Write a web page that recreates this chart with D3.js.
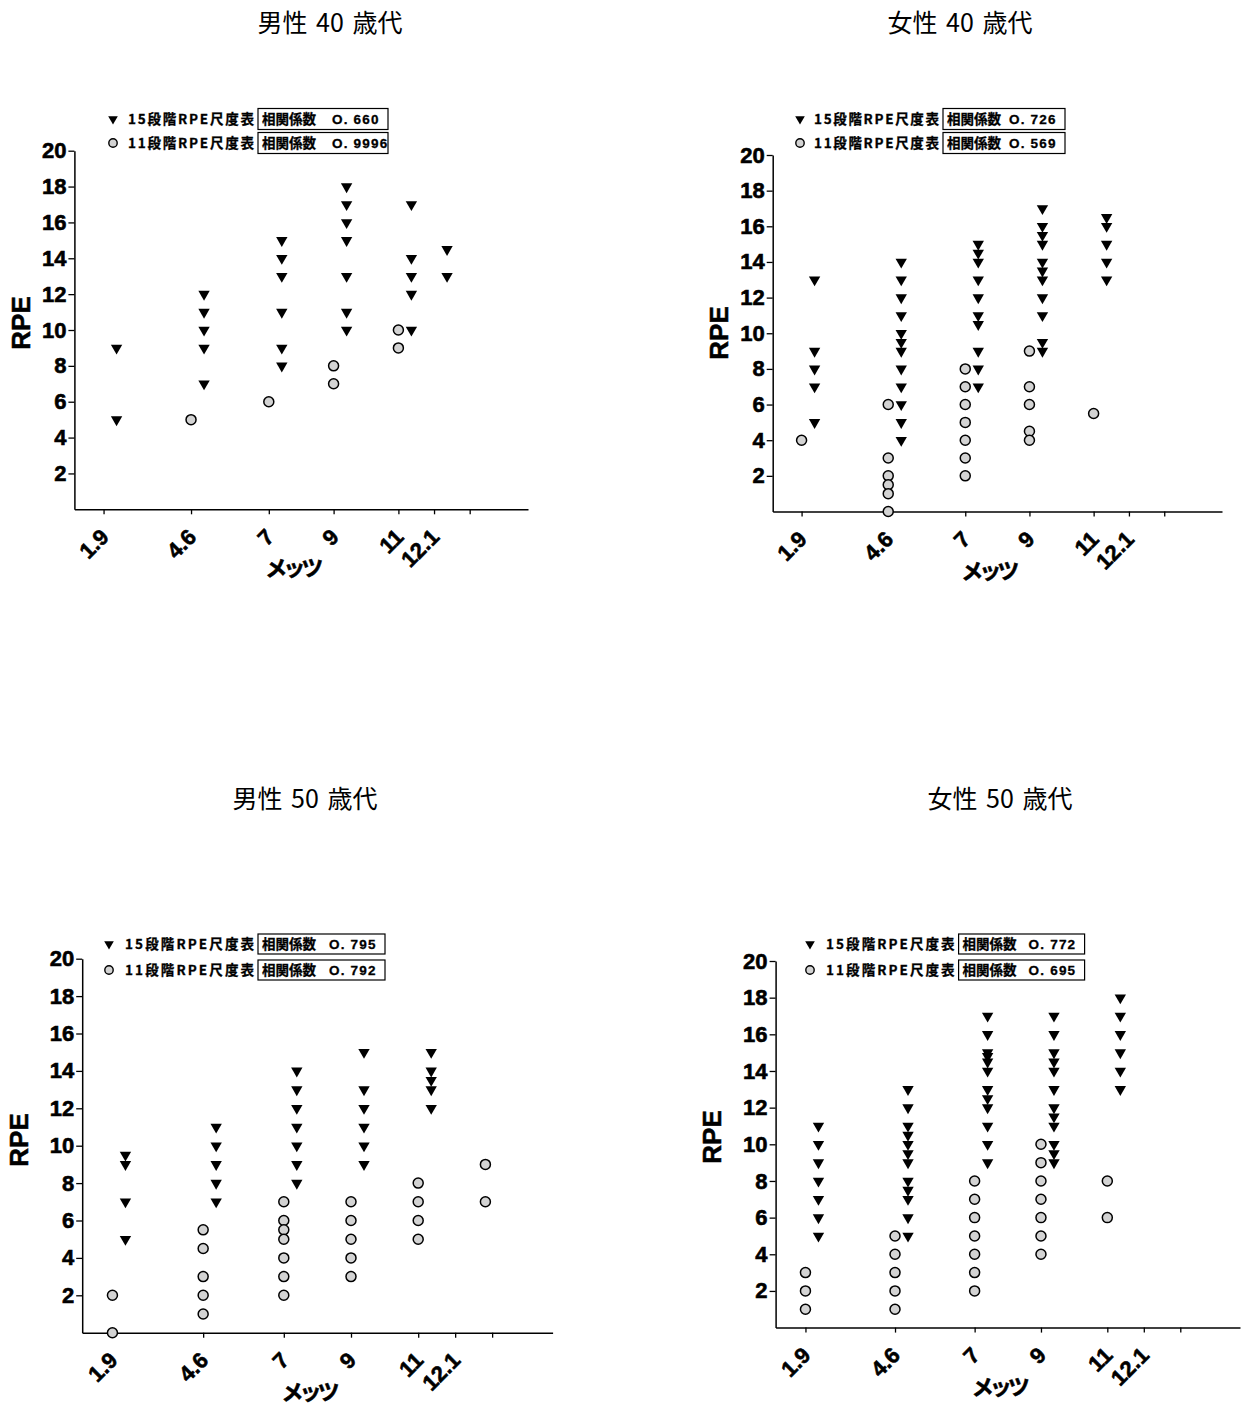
<!DOCTYPE html>
<html>
<head>
<meta charset="utf-8">
<script src="https://cdn.jsdelivr.net/npm/d3@7"></script>
<style>
  body { margin: 0; background: #fff; }
  svg { display: block; }
</style>
</head>
<body>
<svg id="chart" width="1245" height="1408"></svg>
<script>
// ---- data -------------------------------------------------------------
const panelTitles = ["男性 40 歳代", "女性 40 歳代", "男性 50 歳代", "女性 50 歳代"];
const legendLabels = ["15段階RPE尺度表", "11段階RPE尺度表"];
const corrLabel = "相関係数";
const corrM40 = ["O. 660", "O. 9996"];
const corrF40 = ["O. 726", "O. 569"];
const corrM50 = ["O. 795", "O. 792"];
const corrF50 = ["O. 772", "O. 695"];

const xTickValues = [1.9, 4.6, 7, 9, 11, 12.1, 13.2];
const xTickLabels = ["1.9", "4.6", "7", "9", "11", "12.1", ""];
const yTickValues = [2, 4, 6, 8, 10, 12, 14, 16, 18, 20];
const xTitle = "メッツ";
const yTitle = "RPE";

// [METs, [RPE values...]]  — 15-step scale (triangles)
const m40Scale15 = [
  [1.9, [9, 5]],
  [4.6, [12, 11, 10, 9, 7]],
  [7, [15, 14, 13, 11, 9, 8]],
  [9, [18, 17, 16, 15, 13, 11, 10]],
  [11, [17, 14, 13, 12, 10]],
  [12.1, [14.5, 13]]
];
// 11-step scale (circles)
const m40Scale11 = [
  [4.6, [5]],
  [7, [6]],
  [9, [8, 7]],
  [11, [10, 9]]
];

const f40Scale15 = [
  [1.9, [13, 9, 8, 7, 5]],
  [4.6, [14, 13, 12, 11, 10, 9.5, 9, 8, 7, 6, 5, 4]],
  [7, [15, 14.5, 14, 13, 12, 11, 10.5, 9, 8, 7]],
  [9, [17, 16, 15.5, 15, 14, 13.5, 13, 12, 11, 9.5, 9]],
  [11, [16.5, 16, 15, 14, 13]]
];
const f40Scale11 = [
  [1.9, [4]],
  [4.6, [6, 3, 2, 1.5, 1, 0]],
  [7, [8, 7, 6, 5, 4, 3, 2]],
  [9, [9, 7, 6, 4.5, 4]],
  [11, [5.5]]
];

const m50Scale15 = [
  [1.9, [9.5, 9, 7, 5]],
  [4.6, [11, 10, 9, 8, 7]],
  [7, [14, 13, 12, 11, 10, 9, 8]],
  [9, [15, 13, 12, 11, 10, 9]],
  [11, [15, 14, 13.5, 13, 12]]
];
const m50Scale11 = [
  [1.9, [2, 0]],
  [4.6, [5.5, 4.5, 3, 2, 1]],
  [7, [7, 6, 5.5, 5, 4, 3, 2]],
  [9, [7, 6, 5, 4, 3]],
  [11, [8, 7, 6, 5]],
  [13, [9, 7]]
];

const f50Scale15 = [
  [1.9, [11, 10, 9, 8, 7, 6, 5]],
  [4.6, [13, 12, 11, 10.5, 10, 9.5, 9, 8, 7.5, 7, 6, 5]],
  [7, [17, 16, 15, 14.8, 14.5, 14, 13, 12.5, 12, 11, 10, 9]],
  [9, [17, 16, 15, 14.5, 14, 13, 12, 11.5, 11, 10, 9.5, 9]],
  [11, [18, 17, 16, 15, 14, 13]]
];
const f50Scale11 = [
  [1.9, [3, 2, 1]],
  [4.6, [5, 4, 3, 2, 1]],
  [7, [8, 7, 6, 5, 4, 3, 2]],
  [9, [10, 9, 8, 7, 6, 5, 4]],
  [11, [8, 6]]
];

// ---- layout -----------------------------------------------------------
const frames = [
  { left: 74.4, right: 528, top: 150.7, bottom: 509.3, titleX: 330, titleY: 32,
    yTitleX: 21, yTitleY: 323, markX: 113, textX: 128, boxX: 258, boxW: 130, boxH: 21, rows: [119, 143] },
  { left: 772.7, right: 1222, top: 155, bottom: 511.5, titleX: 960, titleY: 32,
    yTitleX: 719, yTitleY: 333, markX: 800, textX: 814, boxX: 943, boxW: 122, boxH: 21, rows: [119, 143] },
  { left: 82.2, right: 552.6, top: 958.7, bottom: 1332.7, titleX: 305, titleY: 808,
    yTitleX: 19, yTitleY: 1140, markX: 109, textX: 125, boxX: 258, boxW: 127, boxH: 20, rows: [944, 970] },
  { left: 775.6, right: 1240, top: 961, bottom: 1327.6, titleX: 1000, titleY: 808,
    yTitleX: 712, yTitleY: 1137, markX: 810, textX: 826, boxX: 958.6, boxW: 126, boxH: 20, rows: [944, 970] }
];

const panels = [
  { title: panelTitles[0], s15: m40Scale15, s11: m40Scale11, corr: corrM40 },
  { title: panelTitles[1], s15: f40Scale15, s11: f40Scale11, corr: corrF40 },
  { title: panelTitles[2], s15: m50Scale15, s11: m50Scale11, corr: corrM50 },
  { title: panelTitles[3], s15: f50Scale15, s11: f50Scale11, corr: corrF50 }
];

const NUM_FONT = "'Liberation Sans', Arial, sans-serif";
const JP_FONT = "'Noto Sans CJK JP', 'Noto Sans', sans-serif";
const TRI_SHIFT = 13;   // triangles sit just right of their METs tick
const CIRCLE_FILL = "#d3d3d3";

const svg = d3.select("#chart");
const triangle = d3.symbol().type(d3.symbolTriangle).size(56);
const triangleSmall = d3.symbol().type(d3.symbolTriangle).size(40);

function flatten(groups) {
  const out = [];
  groups.forEach(([m, vals]) => vals.forEach(v => out.push({ m, v })));
  return out;
}

// heavier bold numerals
function heavy(sel, w) {
  return sel.attr("fill", "#000").attr("stroke", "#000").attr("stroke-width", w)
    .attr("paint-order", "stroke");
}

panels.forEach((p, i) => {
  const f = frames[i];
  const g = svg.append("g");

  const x = d3.scaleLinear().domain([1, 15]).range([f.left, f.right]);
  const y = d3.scaleLinear().domain([0, 20]).range([f.bottom, f.top]);

  // title
  g.append("text")
    .attr("x", f.titleX).attr("y", f.titleY)
    .attr("text-anchor", "middle")
    .style("font-family", JP_FONT).style("font-size", "25px")
    .style("word-spacing", "3px")
    .text(p.title);

  // y axis
  const yAxis = d3.axisLeft(y).tickValues(yTickValues).tickSize(6).tickSizeOuter(0).tickPadding(2);
  g.append("g")
    .attr("transform", `translate(${f.left},0)`)
    .call(yAxis)
    .call(a => a.select(".domain").attr("stroke", "#000").attr("stroke-width", 1.5))
    .call(a => a.selectAll(".tick line").attr("stroke", "#000").attr("stroke-width", 1.3))
    .call(a => heavy(a.selectAll(".tick text")
      .style("font-family", NUM_FONT).style("font-size", "22px").style("font-weight", "bold"), 0.6));

  // x axis
  const xAxis = d3.axisBottom(x).tickValues(xTickValues)
    .tickFormat(d => xTickLabels[xTickValues.indexOf(d)])
    .tickSize(5).tickSizeOuter(0);
  g.append("g")
    .attr("transform", `translate(0,${f.bottom})`)
    .call(xAxis)
    .call(a => a.select(".domain").attr("stroke", "#000").attr("stroke-width", 1.5))
    .call(a => a.selectAll(".tick line").attr("stroke", "#000").attr("stroke-width", 1.3))
    .call(a => heavy(a.selectAll(".tick text")
      .attr("x", 0).attr("y", 0).attr("dy", 0)
      .attr("text-anchor", "end")
      .attr("transform", "translate(6,29) rotate(-45)")
      .style("font-family", NUM_FONT).style("font-size", "22px").style("font-weight", "bold"), 0.6));

  // axis titles
  heavy(g.append("text")
    .attr("x", (f.left + f.right) / 2 - 9).attr("y", f.bottom + 57)
    .attr("text-anchor", "middle").attr("dominant-baseline", "central")
    .style("font-family", JP_FONT).style("font-size", "22px").style("font-weight", "bold")
    .style("letter-spacing", "-4px")
    .text(xTitle), 0.5);
  heavy(g.append("text")
    .attr("transform", `translate(${f.yTitleX},${f.yTitleY}) rotate(-90)`)
    .attr("text-anchor", "middle").attr("dominant-baseline", "central")
    .style("font-family", NUM_FONT).style("font-size", "26px").style("font-weight", "bold")
    .text(yTitle), 0.5);

  // 11-step scale: circles
  g.append("g").selectAll("circle")
    .data(flatten(p.s11))
    .join("circle")
    .attr("cx", d => x(d.m))
    .attr("cy", d => y(d.v))
    .attr("r", 5)
    .attr("fill", CIRCLE_FILL)
    .attr("stroke", "#000")
    .attr("stroke-width", 1.5);

  // 15-step scale: downward triangles
  g.append("g").selectAll("path")
    .data(flatten(p.s15))
    .join("path")
    .attr("d", triangle)
    .attr("transform", d => `translate(${x(d.m) + TRI_SHIFT},${y(d.v)}) rotate(180)`)
    .attr("fill", "#000");

  // legend
  const lg = g.append("g");
  lg.append("path")
    .attr("d", triangleSmall)
    .attr("transform", `translate(${f.markX},${f.rows[0]}) rotate(180)`)
    .attr("fill", "#000");
  lg.append("circle")
    .attr("cx", f.markX).attr("cy", f.rows[1]).attr("r", 4.2)
    .attr("fill", CIRCLE_FILL).attr("stroke", "#000").attr("stroke-width", 1.4);

  legendLabels.forEach((lab, k) => {
    const cy = f.rows[k];
    heavy(lg.append("text")
      .attr("x", f.textX).attr("y", cy).attr("dy", "0.36em")
      .attr("textLength", f.boxX - 4 - f.textX).attr("lengthAdjust", "spacing")
      .style("font-family", JP_FONT).style("font-size", "13.5px").style("font-weight", "bold")
      .text(lab), 0.3);
    lg.append("rect")
      .attr("x", f.boxX).attr("y", cy - f.boxH / 2)
      .attr("width", f.boxW).attr("height", f.boxH)
      .attr("fill", "none").attr("stroke", "#000").attr("stroke-width", 1.2);
    heavy(lg.append("text")
      .attr("x", f.boxX + 4).attr("y", cy).attr("dy", "0.36em")
      .style("font-family", JP_FONT).style("font-size", "13.5px").style("font-weight", "bold")
      .text(corrLabel), 0.3);
    heavy(lg.append("text")
      .attr("x", f.boxX + f.boxW - 56).attr("y", cy).attr("dy", "0.36em")
      .style("font-family", NUM_FONT).style("font-size", "13.5px").style("font-weight", "bold")
      .style("letter-spacing", "1.2px")
      .text(p.corr[k]), 0.3);
  });
});
</script>
</body>
</html>
